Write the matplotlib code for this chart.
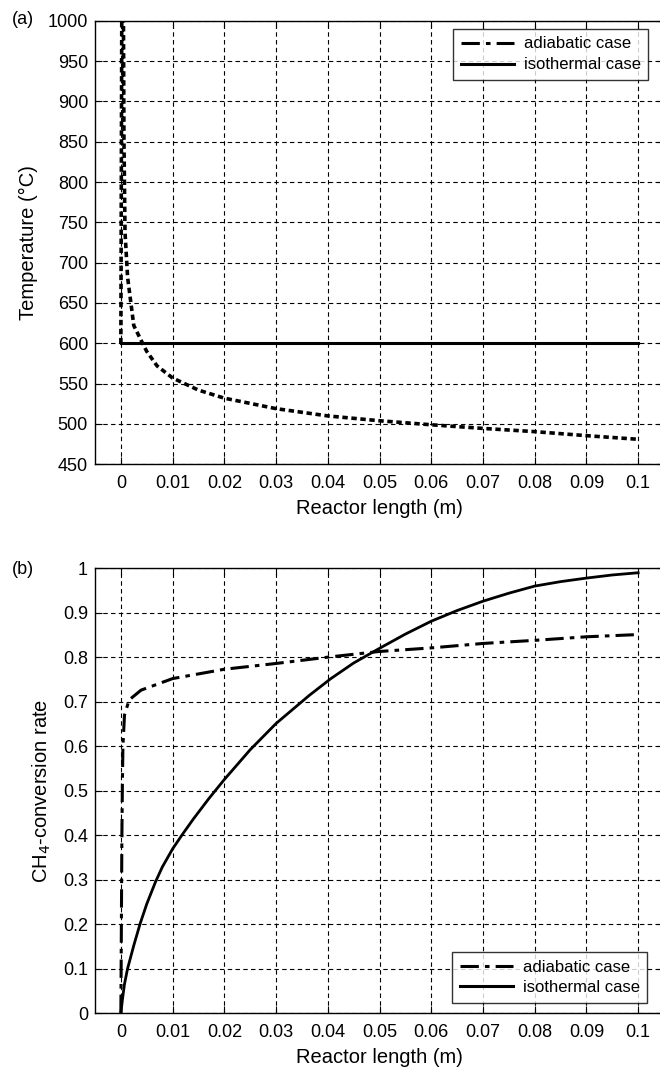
import numpy as np
import matplotlib.pyplot as plt
from matplotlib.lines import Line2D

plt.rcParams['font.family'] = ['Liberation Sans', 'DejaVu Sans']

# (a) temperature profiles
x_T_adia = [0, 0.0002, 0.0005, 0.0006, 0.0008, 0.0013, 0.0025, 0.0042, 0.005, 0.007,
            0.01, 0.015, 0.02, 0.03, 0.04, 0.05, 0.06, 0.07, 0.08, 0.09, 0.1]
T_adia = [600, 1060, 1000, 850, 738, 682, 622, 600, 590, 572,
          557, 542, 532, 519, 510, 504, 499, 494.5, 490.5, 485.5, 481]
x_T_iso = [0, 0.1]
T_iso = [600, 600]

# (b) CH4 conversion
x_X_adia = [0, 0.0001, 0.0002, 0.0003, 0.0004, 0.0007, 0.0016, 0.0039, 0.01, 0.02,
            0.03, 0.0406, 0.05, 0.06, 0.07, 0.08, 0.09, 0.1]
X_adia = [0, 0.2, 0.4, 0.52, 0.6, 0.67, 0.704, 0.726, 0.752, 0.773,
          0.786, 0.801, 0.813, 0.821, 0.831, 0.838, 0.846, 0.851]
x_X_iso = [0, 0.0003, 0.0007, 0.0013, 0.0025, 0.0037, 0.005, 0.0067, 0.008, 0.01, 0.0118,
           0.014, 0.017, 0.02, 0.025, 0.03, 0.0364, 0.0406, 0.045, 0.05,
           0.055, 0.06, 0.065, 0.07, 0.075, 0.08, 0.085, 0.09, 0.095, 0.1]
X_iso = [0, 0.03, 0.065, 0.1, 0.152, 0.2, 0.245, 0.295, 0.328, 0.369, 0.4,
         0.436, 0.482, 0.525, 0.592, 0.651, 0.714, 0.752, 0.787, 0.82,
         0.852, 0.881, 0.905, 0.926, 0.944, 0.96, 0.97, 0.978, 0.985, 0.99]

xticks = [0, 0.01, 0.02, 0.03, 0.04, 0.05, 0.06, 0.07, 0.08, 0.09, 0.1]
xticklabels = ['0', '0.01', '0.02', '0.03', '0.04', '0.05', '0.06', '0.07', '0.08', '0.09', '0.1']

W, H = 660, 1074
fig = plt.figure(figsize=(W / 100, H / 100), dpi=100)

def style(ax):
    ax.set_xlim(-0.005, 0.105)
    ax.set_xticks(xticks)
    ax.set_xticklabels(xticklabels)
    ax.grid(True, color='black', linestyle=(0, (4, 3)), linewidth=0.8)
    ax.tick_params(direction='in', length=5, width=0.8, top=True, right=True,
                   labelsize=13, pad=5)
    ax.tick_params(axis='x', pad=8)
    for s in ax.spines.values():
        s.set_linewidth(1.0)
    ax.set_xlabel('Reactor length (m)', fontsize=14.5, labelpad=5)

adia_dash = (0, (6, 2, 1.5, 2))

ax1 = fig.add_axes([95 / W, 1 - 464.3 / H, (664 - 95) / W, (464.3 - 20.7) / H])
ax1.plot(x_T_adia, T_adia, color='black', lw=2.6, linestyle=(0, (1.5, 1.0)))
ax1.plot(x_T_iso, T_iso, color='black', lw=2.2)
ax1.set_ylim(450, 1000)
ax1.set_yticks(np.arange(450, 1001, 50))
style(ax1)
ax1.set_ylabel('Temperature (°C)', fontsize=14.5, labelpad=7)

ax2 = fig.add_axes([95 / W, 1 - 1013 / H, (664 - 95) / W, (1013 - 568.3) / H])
ax2.plot(x_X_adia, X_adia, color='black', lw=2.2, linestyle=adia_dash)
ax2.plot(x_X_iso, X_iso, color='black', lw=2.0)
ax2.set_ylim(0, 1)
ax2.set_yticks(np.arange(0, 1.01, 0.1))
ax2.set_yticklabels(['0', '0.1', '0.2', '0.3', '0.4', '0.5', '0.6', '0.7', '0.8', '0.9', '1'])
style(ax2)
ax2.set_ylabel('CH$_4$-conversion rate', fontsize=14.5, labelpad=7)

handles = [Line2D([], [], color='black', lw=2.2, linestyle=adia_dash),
           Line2D([], [], color='black', lw=2.2)]
labels = ['adiabatic case', 'isothermal case']
for anchor in [(453 / W, 1 - 29 / H), (452 / W, 1 - 952 / H)]:
    leg = fig.legend(handles, labels, loc='upper left', bbox_to_anchor=anchor,
                     fontsize=12, frameon=True, fancybox=False, handlelength=3.2,
                     borderpad=0.45, labelspacing=0.35, handletextpad=0.6,
                     borderaxespad=0)
    leg.get_frame().set_edgecolor('black')
    leg.get_frame().set_linewidth(1.0)

fig.text(12 / W, 1 - 20 / H, '(a)', fontsize=13, va='center')
fig.text(12 / W, 1 - 570 / H, '(b)', fontsize=13, va='center')

fig.savefig('out.png', dpi=100)
